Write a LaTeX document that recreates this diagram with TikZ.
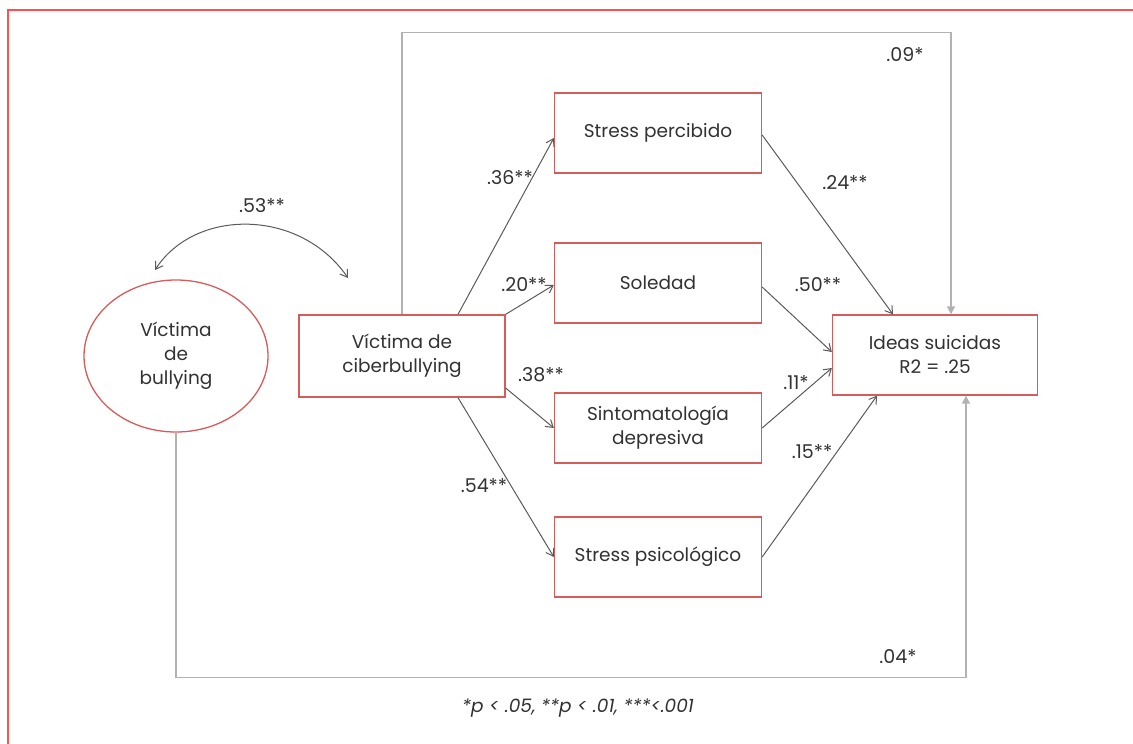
\documentclass[tikz,border=0pt]{standalone}
\usepackage{fontspec}
\setmainfont{Poppins}
\usetikzlibrary{arrows.meta,shapes.geometric}
\definecolor{boxred}{RGB}{214,92,92}
\definecolor{framered}{RGB}{255,80,80}
\definecolor{ink}{RGB}{50,50,50}
\definecolor{pathgrey}{RGB}{178,178,178}
\definecolor{arrowgrey}{RGB}{90,90,90}
\tikzset{
  varbox/.style={draw=boxred,line width=1.3pt,fill=white,inner sep=0pt,
    minimum width=207pt,minimum height=80pt,align=center,text=ink,
    font=\fontsize{18.5}{24}\selectfont},
  coef/.style={text=ink,inner sep=0pt,font=\fontsize{19}{22}\selectfont},
  path/.style={draw=arrowgrey,line width=1pt,-{Straight Barb[length=7pt,width=9pt]}},
  direct/.style={draw=pathgrey,line width=1.6pt,-{Triangle[length=8pt,width=8pt]}},
}
\begin{document}
\begin{tikzpicture}[x=1pt,y=-1pt]
\useasboundingbox (0,0) rectangle (1133,744);
% outer frame
\draw[framered,line width=1.2pt] (8,744) -- (8,10) -- (1133,10);

% variables
\node[varbox,ellipse,minimum width=184pt,minimum height=152pt] (bull) at (176,356)
  {Víctima\\de\\bullying};
\node[varbox,minimum width=206pt,minimum height=82pt] (cyber) at (402,356)
  {Víctima de\\ciberbullying};
\node[varbox] (sp)  at (658,133) {Stress percibido};
\node[varbox] (sol) at (658,283) {Soledad};
\node[varbox,minimum height=70pt] (sin) at (658,428) {Sintomatología\\depresiva};
\node[varbox] (psi) at (658,557) {Stress psicológico};
\node[varbox,minimum width=205pt] (ideas) at (935,355) {Ideas suicidas\\R2 = .25};

% direct effects
\draw[direct] (cyber.north) -- ++(0,-282) -| ([xshift=16pt]ideas.north);
\draw[direct] (bull.south) -- ++(0,245) -| ([xshift=31pt]ideas.south);

% correlation between both victimisations
\coordinate (c1) at (155,270);
\coordinate (c2) at (348,278);
\draw[draw=arrowgrey,line width=1pt,{Straight Barb[length=7pt,width=9pt]}-{Straight Barb[length=7pt,width=9pt]}]
  (c1) .. controls (195,208) and (300,208) .. (c2);

% mediation paths
\draw[path] ([xshift=56pt]cyber.north) -- ([yshift=-5pt]sp.west);
\draw[path] (cyber.north east) -- ([yshift=-2pt]sol.west);
\draw[path] ([yshift=-32pt]cyber.east) -- (sin.west);
\draw[path] ([xshift=56pt]cyber.south) -- (psi.west);
\draw[path] ([yshift=-2pt]sp.east) -- ([xshift=-42pt]ideas.north);
\draw[path] ([yshift=-4pt]sol.east) -- ([yshift=3pt]ideas.west);
\draw[path] (sin.east) -- ([yshift=-13pt]ideas.west);
\draw[path] (psi.east) -- ([xshift=-58pt]ideas.south);

% coefficients
\node[coef] (k53) at (262,206) {.53**};
\node[coef] (k36) at (510,178) {.36**};
\node[coef] (k20) at (524,285) {.20**};
\node[coef] (k38) at (541,375) {.38**};
\node[coef] (k54) at (484,486) {.54**};
\node[coef] (k24) at (845,183) {.24**};
\node[coef] (k50) at (818,285) {.50**};
\node[coef] (k11) at (796,383) {.11*};
\node[coef] (k15) at (812,452) {.15**};
\node[coef] (k09) at (905,55) {.09*};
\node[coef] (k04) at (898,657) {.04*};

% significance note
\node[coef,font=\itshape\fontsize{18.5}{22}\selectfont] (note) at (578,708)
  {*p < .05, **p < .01, ***<.001};
\end{tikzpicture}
\end{document}
